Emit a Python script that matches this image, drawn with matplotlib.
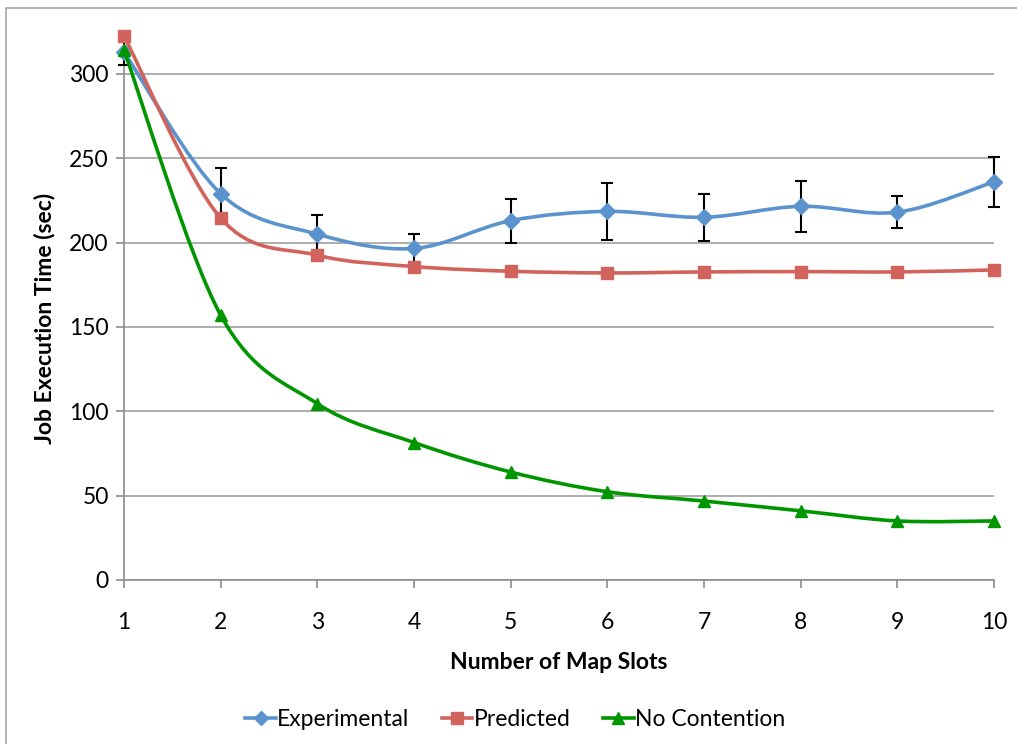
import numpy as np
import matplotlib
matplotlib.use("Agg")
import matplotlib.pyplot as plt
from matplotlib.path import Path
from matplotlib.patches import PathPatch, Rectangle
from matplotlib.lines import Line2D

plt.rcParams['font.family'] = ['Lato', 'DejaVu Sans']

# data
slots = [1, 2, 3, 4, 5, 6, 7, 8, 9, 10]
experimental = [313, 229, 205, 196.5, 213, 218.5, 215, 221.5, 218, 236]
experimental_err = [8, 15.5, 11.5, 8.5, 13, 16.7, 13.8, 15, 9.6, 15]
predicted = [322.5, 214.5, 192.5, 185.8, 183, 182, 182.6, 182.8, 182.6, 183.8]
no_contention = [314, 157, 104.5, 81.5, 64, 52.3, 46.8, 41, 35, 35]

BLUE = '#5b93cf'
RED = '#d1625c'
GREEN = '#009600'
AXIS = '#8c8c8c'


def smooth_path(xs, ys):
    # cubic bezier through the points, catmull-rom style tangents
    xs = np.asarray(xs, float)
    ys = np.asarray(ys, float)
    pts = np.column_stack([xs, ys])
    n = len(pts)
    verts = [pts[0]]
    codes = [Path.MOVETO]
    for i in range(n - 1):
        p0 = pts[i - 1] if i > 0 else pts[i]
        p1 = pts[i]
        p2 = pts[i + 1]
        p3 = pts[i + 2] if i + 2 < n else pts[i + 1]
        c1 = p1 + (p2 - p0) / 6.0
        c2 = p2 - (p3 - p1) / 6.0
        verts += [c1, c2, p2]
        codes += [Path.CURVE4] * 3
    return Path(verts, codes)


fig = plt.figure(figsize=(10.17, 7.44), dpi=100)
ax = fig.add_axes([124 / 1017, 1 - 580 / 744, 870 / 1017, (580 - 57) / 744])

# outer chart frame
fig.patches.append(Rectangle((6 / 1017, -0.05), 1.2, 1.05 - 8 / 744,
                             transform=fig.transFigure, fill=False,
                             edgecolor='#a6a6a6', linewidth=1.2))

ax.set_xlim(1, 10)
ax.set_ylim(0, 310)
ax.set_yticks(np.arange(0, 301, 50))
ax.set_xticks(slots)
ax.grid(axis='y', color='#a0a0a0', linewidth=1.2)
ax.set_axisbelow(True)

for name in ['top', 'right']:
    ax.spines[name].set_visible(False)
for name in ['left', 'bottom']:
    ax.spines[name].set_color(AXIS)
    ax.spines[name].set_linewidth(1.2)
ax.tick_params(axis='both', direction='out', length=6, width=1.2, color=AXIS,
               labelsize=16.5, labelcolor='black')
ax.tick_params(axis='x', pad=17)
ax.tick_params(axis='y', pad=5)

series = [
    (experimental, BLUE, 'D', 8.5, 'Experimental'),
    (predicted, RED, 's', 9, 'Predicted'),
    (no_contention, GREEN, '^', 9, 'No Contention'),
]

handles = []
for k, (vals, color, marker, ms, label) in enumerate(series):
    ax.add_patch(PathPatch(smooth_path(slots, vals), facecolor='none',
                           edgecolor=color, linewidth=2.6, clip_on=False,
                           zorder=3 + k))
    if k == 0:
        ax.errorbar(slots, vals, yerr=experimental_err, fmt='none',
                    ecolor='black', elinewidth=1.5, capsize=4, capthick=1.5,
                    zorder=3.5, clip_on=False)
    ax.plot(slots, vals, linestyle='none', marker=marker, markersize=ms,
            color=color, clip_on=False, zorder=3.6 + k)
    handles.append(Line2D([], [], color=color, linewidth=2.6, marker=marker,
                          markersize=ms - 1, label=label))

ax.set_xlabel('Number of Map Slots', fontsize=16.5, fontweight='bold', labelpad=14)
ax.set_ylabel('Job Execution Time (sec)', fontsize=16.5, fontweight='bold', labelpad=10)

fig.legend(handles=handles, loc='center', bbox_to_anchor=(515 / 1017, 1 - 720 / 744),
           ncol=3, frameon=False, fontsize=16.5, handlelength=1.35, handletextpad=0.05,
           columnspacing=1.4)

fig.savefig('out.png', dpi=100)
